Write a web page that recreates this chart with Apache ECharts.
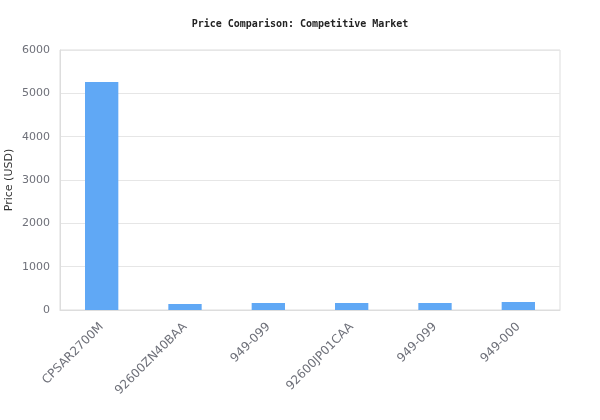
<!DOCTYPE html>
<html>
<head>
<meta charset="utf-8">
<script src="https://cdn.jsdelivr.net/npm/echarts@6/dist/echarts.min.js"></script>
<style>
  html, body { margin: 0; padding: 0; background: #fff; }
  #main { width: 600px; height: 420px; }
</style>
</head>
<body>
<div id="main"></div>
<script>
var categories = ['CPSAR2700M', '92600ZN40BAA', '949-099', '92600JP01CAA', '949-099', '949-000'];
var prices = [5260, 140, 160, 160, 160, 185];

var chart = echarts.init(document.getElementById('main'), null, { renderer: 'canvas' });

var option = {
  backgroundColor: '#fff',
  title: {
    text: 'Price Comparison: Competitive Market',
    left: 'center',
    top: 14,
    textStyle: {
      fontFamily: 'DejaVu Sans Mono',
      fontSize: 10,
      fontWeight: 'bold',
      color: '#222'
    }
  },
  grid: {
    left: 60,
    right: 40,
    top: 50,
    bottom: 110,
    outerBoundsMode: 'none',
    containLabel: false,
    show: true,
    borderColor: '#ddd',
    borderWidth: 1
  },
  xAxis: {
    type: 'category',
    data: categories,
    axisTick: { show: false },
    axisLine: { lineStyle: { color: '#ddd' } },
    axisLabel: {
      rotate: 45,
      interval: 0,
      color: '#6e7079',
      fontSize: 12,
      fontFamily: 'DejaVu Sans',
      margin: 15
    }
  },
  yAxis: {
    type: 'value',
    min: 0,
    max: 6000,
    interval: 1000,
    name: 'Price (USD)',
    nameLocation: 'middle',
    nameGap: 45,
    nameMoveOverlap: false,
    nameTextStyle: { color: '#333', fontSize: 11, fontFamily: 'DejaVu Sans' },
    axisLine: { show: true, lineStyle: { color: '#ddd' } },
    axisTick: { show: false },
    splitLine: { lineStyle: { color: '#e6e6e6' } },
    axisLabel: {
      color: '#6e7079',
      fontSize: 11,
      fontFamily: 'DejaVu Sans',
      margin: 10,
      formatter: function (v) { return String(v); }
    }
  },
  series: [
    {
      type: 'bar',
      data: prices,
      barWidth: '40%',
      itemStyle: { color: '#60a8f5' }
    }
  ]
};

chart.setOption(option);
</script>
</body>
</html>
